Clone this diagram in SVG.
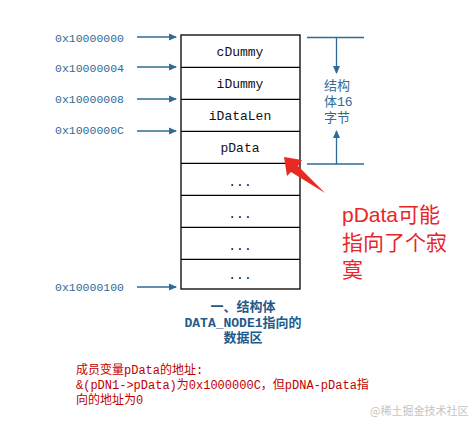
<svg xmlns="http://www.w3.org/2000/svg" width="470" height="430" viewBox="0 0 470 430">
<style>
.addr{font-family:"Liberation Mono",monospace;font-size:11.5px;fill:#2f6b96}
.cell{font-family:"Liberation Mono","Noto Sans CJK SC",monospace;font-size:13px;fill:#111;text-anchor:middle}
.box{fill:#fff;stroke:#000;stroke-width:1.3}
.blue{stroke:#2f6b96;stroke-width:1.3;fill:none}
.side{font-family:"Liberation Mono","Noto Sans CJK SC",sans-serif;font-size:13px;fill:#2f6b96}
.cap{font-family:"Liberation Mono","Noto Sans CJK SC",monospace;font-size:13px;font-weight:bold;fill:#1f5a8a;text-anchor:middle}
.note{font-family:"Liberation Mono","Noto Sans CJK SC",monospace;font-size:12px;fill:#c00000}
.big{font-family:"Liberation Sans","Noto Sans CJK SC",sans-serif;font-size:21px;fill:#e8262a}
</style>
<defs>
<marker id="ah" markerWidth="8" markerHeight="8" refX="7" refY="4" orient="auto" markerUnits="userSpaceOnUse">
<path d="M0,0.5 L8,4 L0,7.5 z" fill="#2f6b96"/>
</marker>
</defs>
<rect width="470" height="430" fill="#fff"/>
<g id="addresses">
<text class="addr" x="55" y="42">0x10000000</text>
<text class="addr" x="55" y="72">0x10000004</text>
<text class="addr" x="55" y="103">0x10000008</text>
<text class="addr" x="55" y="134">0x1000000C</text>
<text class="addr" x="55" y="291">0x10000100</text>
</g>
<g id="struct">
<rect class="box" x="181" y="35" width="119" height="254"/>
<line stroke="#000" stroke-width="1.3" x1="181" y1="67.3" x2="300" y2="67.3"/>
<line stroke="#000" stroke-width="1.3" x1="181" y1="99.3" x2="300" y2="99.3"/>
<line stroke="#000" stroke-width="1.3" x1="181" y1="131.3" x2="300" y2="131.3"/>
<line stroke="#000" stroke-width="1.3" x1="181" y1="163.3" x2="300" y2="163.3"/>
<line stroke="#000" stroke-width="1.3" x1="181" y1="195.3" x2="300" y2="195.3"/>
<line stroke="#000" stroke-width="1.3" x1="181" y1="227.3" x2="300" y2="227.3"/>
<line stroke="#000" stroke-width="1.3" x1="181" y1="259.3" x2="300" y2="259.3"/>
<text class="cell" x="240" y="56">cDummy</text>
<text class="cell" x="240" y="88">iDummy</text>
<text class="cell" x="240" y="120">iDataLen</text>
<text class="cell" x="240" y="152">pData</text>
<text class="cell" x="240" y="186">...</text>
<text class="cell" x="240" y="218">...</text>
<text class="cell" x="240" y="250">...</text>
<text class="cell" x="240" y="279">...</text>
</g>
<g id="connectors">
<line class="blue" x1="137" y1="37" x2="176" y2="37" marker-end="url(#ah)"/>
<line class="blue" x1="137" y1="67" x2="176" y2="67" marker-end="url(#ah)"/>
<line class="blue" x1="137" y1="99" x2="176" y2="99" marker-end="url(#ah)"/>
<line class="blue" x1="137" y1="131" x2="176" y2="131" marker-end="url(#ah)"/>
<line class="blue" x1="137" y1="287" x2="176" y2="287" marker-end="url(#ah)"/>
<line class="blue" x1="307" y1="37.5" x2="364" y2="37.5"/>
<line class="blue" x1="307" y1="164" x2="364" y2="164"/>
<line class="blue" x1="336.5" y1="37.5" x2="336.5" y2="73" marker-end="url(#ah)"/>
<line class="blue" x1="336.5" y1="164" x2="336.5" y2="131" marker-end="url(#ah)"/>
<polygon points="284,157 302,160 298,166 325,193 291,172 287,176" fill="#ea2a22"/>
</g>
<g id="size-label">
<text class="side" x="324" y="90">结构</text>
<text class="side" x="324" y="106">体16</text>
<text class="side" x="324" y="121.5">字节</text>
</g>
<g id="caption">
<text class="cap" x="243" y="311">一、结构体</text>
<text class="cap" x="243" y="327">DATA_NODE1指向的</text>
<text class="cap" x="243" y="342">数据区</text>
</g>
<g id="callout">
<text class="big" x="342" y="222">pData可能</text>
<text class="big" x="342" y="250">指向了个寂</text>
<text class="big" x="342" y="277">寞</text>
</g>
<g id="note">
<text class="note" x="76" y="374">成员变量pData的地址:</text>
<text class="note" x="76" y="389">&amp;(pDN1-&gt;pData)为0x1000000C，但pDNA-pData指</text>
<text class="note" x="76" y="404">向的地址为0</text>
</g>
<text x="370" y="415" font-family="'Noto Sans CJK SC',sans-serif" font-size="11" fill="#c4c4c4">@稀土掘金技术社区</text>
</svg>
